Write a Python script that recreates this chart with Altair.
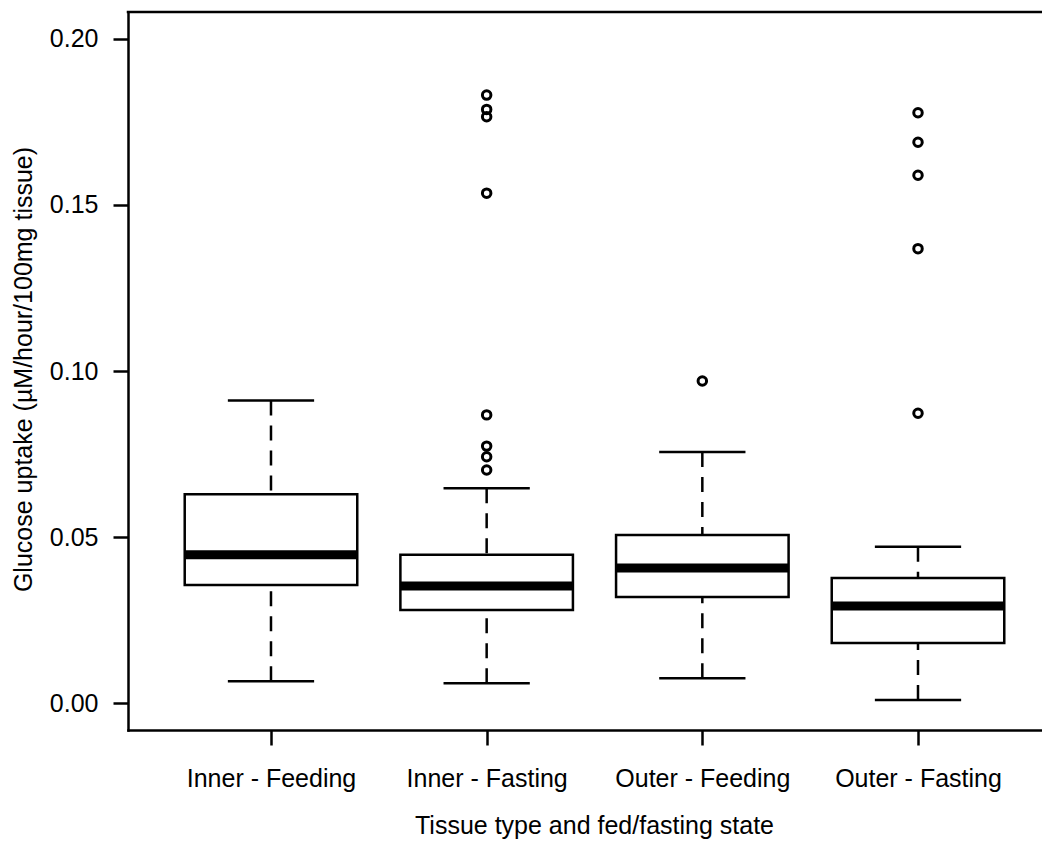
import altair as alt
import pandas as pd

# ---- data ----
groups = ["Inner - Feeding", "Inner - Fasting", "Outer - Feeding", "Outer - Fasting"]
positions = [1, 2, 3, 4]
whisker_low = [0.0067, 0.0061, 0.0076, 0.0010]
q1 = [0.0356, 0.0281, 0.0320, 0.0182]
median = [0.0447, 0.0353, 0.0407, 0.0293]
q3 = [0.0629, 0.0447, 0.0507, 0.0377]
whisker_high = [0.0911, 0.0647, 0.0756, 0.0471]
outliers = [
    [],
    [0.0702, 0.0742, 0.0774, 0.0868, 0.1535, 0.1765, 0.1787, 0.1830],
    [0.0970],
    [0.0873, 0.1368, 0.1589, 0.1688, 0.1777],
]
y_ticks = [0.00, 0.05, 0.10, 0.15, 0.20]

# ---- layout constants ----
BOX_HALF = 0.4
CAP_HALF = 0.2
W, H = 914, 718
X_LEFT = 0.337
X_RIGHT = X_LEFT + W / 215.67
LW = 2.5
FONT = "Liberation Sans"

box_df = pd.DataFrame({
    "group": groups, "pos": positions, "low": whisker_low, "q1": q1,
    "median": median, "q3": q3, "high": whisker_high,
})
whisk_df = pd.DataFrame({
    "pos": positions * 2,
    "end": whisker_high + whisker_low,
    "edge": q3 + q1,
})
out_df = pd.DataFrame(
    [{"pos": p, "group": g, "value": v} for p, g, vals in zip(positions, groups, outliers) for v in vals]
)

xscale = alt.Scale(domain=[X_LEFT, X_RIGHT], nice=False, zero=False)
yscale = alt.Scale(domain=[-0.008, 0.208], nice=False, zero=False)

label_expr = "[" + ",".join("'" + g + "'" for g in groups) + "][datum.value - 1]"

xaxis = alt.Axis(
    values=positions, labelExpr=label_expr, tickSize=15, labelPadding=21,
    labelBaseline="top", labelFlush=False, labelOverlap=False,
    title="Tissue type and fed/fasting state",
    titleX=466, titleY=103, titleBaseline="alphabetic", titleAlign="center",
    domainCap="square",
)
yaxis = alt.Axis(
    values=y_ticks, format=".2f", tickSize=15, labelPadding=15,
    title="Glucose uptake (µM/hour/100mg tissue)",
    titleX=-97, titleY=357, titleBaseline="alphabetic", titleAlign="center",
    titleAngle=270, domainCap="square",
)


def X(field):
    return alt.X(field, type="quantitative", scale=xscale, axis=xaxis)


def Y(field):
    return alt.Y(field, type="quantitative", scale=yscale, axis=yaxis)


base_box = alt.Chart(box_df).transform_calculate(
    x_lo=f"datum.pos - {BOX_HALF}", x_hi=f"datum.pos + {BOX_HALF}",
    c_lo=f"datum.pos - {CAP_HALF}", c_hi=f"datum.pos + {CAP_HALF}",
)

whiskers = alt.Chart(whisk_df).mark_rule(
    color="black", strokeWidth=LW, strokeDash=[15, 10]
).encode(x=X("pos"), y=Y("end"), y2="edge")

caps_hi = base_box.mark_rule(color="black", strokeWidth=LW).encode(
    x=X("c_lo"), x2="c_hi", y=Y("high"))
caps_lo = base_box.mark_rule(color="black", strokeWidth=LW).encode(
    x=X("c_lo"), x2="c_hi", y=Y("low"))

boxes = base_box.mark_rect(fill="white", stroke="black", strokeWidth=LW).encode(
    x=X("x_lo"), x2="x_hi", y=Y("q1"), y2="q3")

medians = base_box.mark_rule(color="black", strokeWidth=9, strokeCap="butt").encode(
    x=X("x_lo"), x2="x_hi", y=Y("median"))

points = alt.Chart(out_df).mark_point(
    shape="circle", filled=False, size=72, strokeWidth=3, color="black", opacity=1
).encode(x=X("pos"), y=Y("value"))

top_border = alt.Chart(alt.Data(values=[{"a": 1}])).mark_rule(
    color="black", strokeWidth=LW, strokeCap="square"
).encode(x=alt.value(0), x2=alt.value(W), y=alt.value(0))

chart = alt.layer(whiskers, caps_hi, caps_lo, boxes, medians, points, top_border).properties(
    width=W, height=H,
    autosize=alt.AutoSizeParams(type="none"),
    padding={"left": 120, "top": 4, "right": 0, "bottom": 109},
).configure_axis(
    grid=False, labelFont=FONT, titleFont=FONT, labelFontSize=25, titleFontSize=25,
    titleFontWeight="normal", labelColor="black", titleColor="black",
    domainColor="black", tickColor="black", domainWidth=LW, tickWidth=LW,
).configure_view(stroke=None)

chart.save("out.html", embed_options={"renderer": "svg", "actions": False})
